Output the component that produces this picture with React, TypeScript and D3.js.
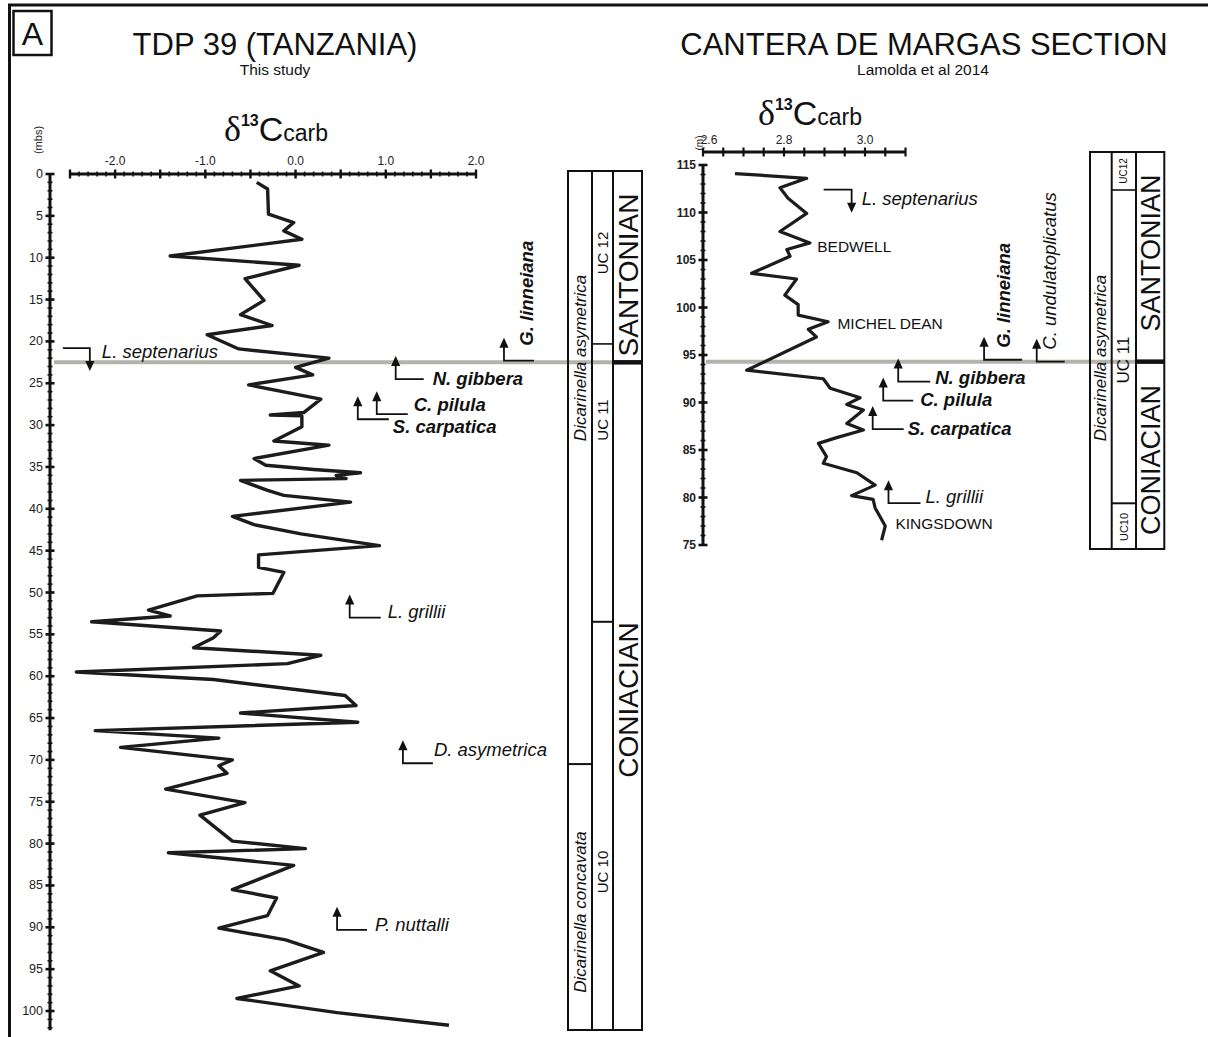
import React from "react";
import * as d3 from "d3";

const SANS = "Arial, 'Liberation Sans', Helvetica, sans-serif";
const SERIF = "'Times New Roman', 'Liberation Serif', serif";

// TDP 39 carbon-isotope profile: depth (m below surface) and δ13C carb (‰)
const tdpDepth = [1.0, 1.8, 4.8, 5.8, 6.8, 7.8, 9.8, 10.9, 12.5, 15.1, 16.8, 18.1, 19.2, 20.9, 22.0, 23.1, 24.0, 25.2, 26.9, 28.5, 28.8, 28.9, 30.2, 31.9, 32.4, 34.0, 34.8, 35.3, 35.7, 36.0, 36.4, 36.6, 37.8, 38.4, 39.2, 40.9, 41.9, 43.0, 44.4, 45.5, 47.0, 47.6, 50.1, 50.4, 52.1, 52.8, 53.5, 54.6, 55.4, 56.6, 57.5, 58.5, 59.5, 60.4, 62.3, 63.5, 64.4, 65.5, 66.5, 67.4, 68.5, 70.0, 70.7, 71.6, 73.5, 75.1, 76.6, 79.7, 80.6, 81.1, 82.6, 85.5, 86.5, 88.6, 90.1, 91.5, 93.0, 95.2, 97.0, 98.5, 100.2, 101.7];
const tdpD13C = [-0.43, -0.31, -0.30, -0.02, -0.13, 0.07, -1.39, 0.04, -0.56, -0.35, -0.61, -0.26, -0.98, -0.63, 0.37, 0.0, 0.19, -0.52, 0.28, 0.09, -0.28, 0.07, 0.07, -0.24, 0.37, -0.46, -0.33, 0.2, 0.72, 0.45, 0.56, -0.61, -0.31, -0.13, 0.61, -0.7, -0.46, 0.06, 0.93, -0.41, -0.41, -0.13, -0.25, -1.09, -1.63, -1.39, -2.26, -0.83, -0.91, -1.13, 0.28, -0.09, -2.43, -0.91, 0.55, 0.67, -0.61, 0.69, -2.22, -0.85, -1.94, -0.7, -0.85, -0.76, -1.44, -0.56, -1.06, -0.7, 0.11, -1.41, -0.02, -0.7, -0.21, -0.31, -0.85, -0.11, 0.31, -0.28, 0.04, -0.65, 0.46, 1.7];

// Cantera de Margas profile: height (m) and δ13C carb (‰)
const cmHeight = [114.1, 113.6, 112.6, 111.5, 109.9, 108.0, 106.8, 106.1, 105.4, 103.6, 103.0, 101.3, 100.3, 99.2, 98.5, 97.7, 96.9, 93.4, 92.5, 91.5, 90.5, 89.8, 89.2, 87.8, 87.1, 86.3, 85.7, 84.3, 83.6, 82.6, 81.3, 80.2, 79.8, 78.9, 77.0, 75.5];
const cmD13C = [2.679, 2.856, 2.79, 2.81, 2.856, 2.79, 2.864, 2.807, 2.815, 2.72, 2.831, 2.802, 2.835, 2.835, 2.909, 2.86, 2.88, 2.708, 2.897, 2.914, 2.988, 2.955, 2.996, 2.955, 2.996, 2.93, 2.885, 2.905, 2.897, 2.98, 3.025, 2.967, 3.02, 3.025, 3.05, 3.041];

// Axis tick labels
const tdpXTicks = [-2, -1, 0, 1, 2];
const cmXTicks = [2.6, 2.8, 3.0];

// Santonian base (gray correlation line)
const tdpSantonianBase = 22.5;
const cmSantonianBase = 94.3;

// Biostratigraphic datums: FO = first occurrence (arrow up), LO = last occurrence (arrow down)
const tdpDatums = [
  { taxon: "L. septenarius", kind: "LO", d13c: -2.28, depth: 20.8, bold: false },
  { taxon: "G. linneiana", kind: "FO", d13c: 2.31, depth: 22.3, bold: true, vertical: true },
  { taxon: "N. gibbera", kind: "FO", d13c: 1.11, depth: 24.5, bold: true },
  { taxon: "C. pilula", kind: "FO", d13c: 0.9, depth: 28.7, bold: true },
  { taxon: "S. carpatica", kind: "FO", d13c: 0.69, depth: 29.3, bold: true },
  { taxon: "L. grillii", kind: "FO", d13c: 0.6, depth: 53.0, bold: false },
  { taxon: "D. asymetrica", kind: "FO", d13c: 1.19, depth: 70.4, bold: false },
  { taxon: "P. nuttalli", kind: "FO", d13c: 0.46, depth: 90.3, bold: false },
];
const cmDatums = [
  { taxon: "L. septenarius", kind: "LO", d13c: 2.967, height: 112.4, bold: false },
  { taxon: "G. linneiana", kind: "FO", d13c: 3.294, height: 94.5, bold: true, vertical: true },
  { taxon: "C. undulatoplicatus", kind: "FO", d13c: 3.424, height: 94.3, bold: false, vertical: true },
  { taxon: "N. gibbera", kind: "FO", d13c: 3.082, height: 92.2, bold: true },
  { taxon: "C. pilula", kind: "FO", d13c: 3.045, height: 90.2, bold: true },
  { taxon: "S. carpatica", kind: "FO", d13c: 3.019, height: 87.2, bold: true },
  { taxon: "L. grillii", kind: "FO", d13c: 3.058, height: 79.4, bold: false },
];
// label layout: [connector length, label gap, label vertical shift]
const tdpLabelLayout = [
  [27, 12, 3], [30, 29, -15], [28, 9, -1], [31, 6, -10], [31, 4, 7], [31, 7, -6], [30, 1, -14], [30, 8, -5],
];
const cmLabelLayout = [
  [28, 10, 9], [38, 26, -12], [28, 19, -12], [32, 5, -4], [30, 7, -1], [31, 4, -1], [32, 5, -7],
];

// Named carbon-isotope events at Cantera de Margas
const cmEvents = ["BEDWELL", "MICHEL DEAN", "KINGSDOWN"];
const cmEventHeight = [106.4, 98.3, 77.3];
const cmEventD13C = [2.882, 2.932, 3.075];

type Datum = { taxon: string; kind: string; d13c: number; bold: boolean; vertical?: boolean };

function DatumMark({ x, y, d, lay }: { x: number; y: number; d: Datum; lay: number[] }) {
  const [hLen, gap, dy] = lay;
  const stem = 23;
  const ah = 10;
  const aw = 4.6;
  const font = {
    fontFamily: SANS,
    fontSize: 18.5,
    fontStyle: "italic" as const,
    fontWeight: d.bold ? 700 : 400,
    fill: "#111",
  };
  if (d.kind === "LO") {
    const tip = y + stem;
    return (
      <g>
        <path d={`M${x - hLen},${y}H${x}V${tip - ah + 1}`} fill="none" stroke="#111" strokeWidth={1.8} />
        <path d={`M${x - aw},${tip - ah}L${x + aw},${tip - ah}L${x},${tip}Z`} fill="#111" />
        <text x={x + gap} y={y + dy} dominantBaseline="central" style={font}>{d.taxon}</text>
      </g>
    );
  }
  const tip = y - stem;
  return (
    <g>
      <path d={`M${x + hLen},${y}H${x}V${tip + ah - 1}`} fill="none" stroke="#111" strokeWidth={1.8} />
      <path d={`M${x - aw},${tip + ah}L${x + aw},${tip + ah}L${x},${tip}Z`} fill="#111" />
      {d.vertical ? (
        <text transform={`translate(${x + gap},${y + dy}) rotate(-90)`} style={font}>{d.taxon}</text>
      ) : (
        <text x={x + hLen + gap} y={y + dy} dominantBaseline="central" style={font}>{d.taxon}</text>
      )}
    </g>
  );
}

function DeltaLabel({ x, y }: { x: number; y: number }) {
  return (
    <text x={x} y={y} textAnchor="middle" fill="#111" fontFamily={SANS}>
      <tspan fontFamily={SERIF} fontSize={36}>δ</tspan>
      <tspan fontSize={16} fontWeight={700} dy={-15}>13</tspan>
      <tspan fontSize={34} dy={15}>C</tspan>
      <tspan fontSize={23}>carb</tspan>
    </text>
  );
}

function VText({ x, y, size, children, italic, weight }: any) {
  return (
    <text
      transform={`translate(${x},${y}) rotate(-90)`}
      textAnchor="middle"
      dominantBaseline="central"
      fontFamily={SANS}
      fontSize={size}
      fontStyle={italic ? "italic" : "normal"}
      fontWeight={weight || 400}
      fill="#111"
    >
      {children}
    </text>
  );
}

const tickFmt = (v: number) => d3.format(".1f")(v).replace("\u2212", "-");

export default function App() {
  const W = 1208;
  const H = 1037;

  const xL = d3.scaleLinear().domain([-2.5, 2.0]).range([70, 476]);
  const yL = d3.scaleLinear().domain([0, 100]).range([174, 1011]);
  const xR = d3.scaleLinear().domain([2.6, 3.1]).range([703, 905.5]);
  const yR = d3.scaleLinear().domain([75, 115]).range([545, 165]);

  const tdpLine = d3
    .line<number>()
    .x((d) => xL(d))
    .y((_, i) => yL(tdpDepth[i]))(tdpD13C);
  const cmLine = d3
    .line<number>()
    .x((d) => xR(d))
    .y((_, i) => yR(cmHeight[i]))(cmD13C);

  const axL = 50;
  const axLy = yL(0);
  const axRy = 152;
  const axR = xR(2.6);

  // Stratigraphic columns
  const lc = [568, 592, 613, 642];
  const lTop = 171;
  const lBot = 1030;
  const rc = [1090, 1111.7, 1136, 1164.3];
  const rTop = 152;
  const rBot = 549;

  const gray = "#b3b3ab";

  return (
    <svg
      width={W}
      height={H}
      viewBox={`0 0 ${W} ${H}`}
      style={{ position: "absolute", left: 0, top: 0, background: "#fff" }}
    >
      <rect x={0} y={0} width={W} height={H} fill="#fff" />

      {/* figure frame */}
      <line x1={8} x2={W} y1={5} y2={5} stroke="#111" strokeWidth={3} />
      <line x1={9.5} x2={9.5} y1={5} y2={H} stroke="#111" strokeWidth={3} />
      <rect x={13.5} y={11} width={38} height={44} fill="none" stroke="#111" strokeWidth={2.5} />
      <text x={32.5} y={45} textAnchor="middle" fontFamily={SANS} fontSize={32} fill="#111">A</text>

      {/* titles */}
      <text x={275} y={55} textAnchor="middle" fontFamily={SANS} fontSize={31} fill="#111">TDP 39 (TANZANIA)</text>
      <text x={275} y={75} textAnchor="middle" fontFamily={SANS} fontSize={15.5} fill="#111">This study</text>
      <text x={924} y={55} textAnchor="middle" fontFamily={SANS} fontSize={31} fill="#111">CANTERA DE MARGAS SECTION</text>
      <text x={923} y={75} textAnchor="middle" fontFamily={SANS} fontSize={15.5} fill="#111">Lamolda et al 2014</text>

      <DeltaLabel x={276} y={141} />
      <DeltaLabel x={810} y={125} />

      {/* gray Santonian-base correlation lines */}
      <line x1={axL + 4} x2={lc[2]} y1={yL(tdpSantonianBase)} y2={yL(tdpSantonianBase)} stroke={gray} strokeWidth={4} />
      <line x1={axR + 3} x2={rc[2]} y1={yR(cmSantonianBase)} y2={yR(cmSantonianBase)} stroke={gray} strokeWidth={4} />

      {/* ---- TDP 39 axes ---- */}
      <text transform={`translate(38,140) rotate(-90)`} textAnchor="middle" dominantBaseline="central" fontFamily={SANS} fontSize={11} fill="#222">(mbs)</text>
      <line x1={axL} x2={axL} y1={axLy - 1} y2={yL(102.3)} stroke="#111" strokeWidth={3} />
      {d3.range(0, 103).map((d) => (
        <line key={"lym" + d} x1={axL - 2.5} x2={axL + 2.5} y1={yL(d)} y2={yL(d)} stroke="#111" strokeWidth={1.6} />
      ))}
      {d3.range(0, 101, 5).map((d) => (
        <g key={"lyM" + d}>
          <line x1={axL - 4.5} x2={axL + 4.5} y1={yL(d)} y2={yL(d)} stroke="#111" strokeWidth={2.6} />
          <text x={axL - 7} y={yL(d)} textAnchor="end" dominantBaseline="central" fontFamily={SANS} fontSize={12.5} fill="#222">{d}</text>
        </g>
      ))}

      <line x1={xL(-2.5)} x2={xL(2.0)} y1={axLy} y2={axLy} stroke="#111" strokeWidth={3} />
      {d3.range(-25, 21).map((k) => (
        <line key={"lxm" + k} x1={xL(k / 10)} x2={xL(k / 10)} y1={axLy - 2.5} y2={axLy + 2.5} stroke="#111" strokeWidth={1.6} />
      ))}
      {d3.range(-5, 5).map((k) => (
        <line key={"lxM" + k} x1={xL(k / 2)} x2={xL(k / 2)} y1={axLy - 4.5} y2={axLy + 4.5} stroke="#111" strokeWidth={2.4} />
      ))}
      {tdpXTicks.map((t) => (
        <text key={"lxl" + t} x={xL(t)} y={axLy - 13} textAnchor="middle" dominantBaseline="central" fontFamily={SANS} fontSize={12} fill="#222">{tickFmt(t)}</text>
      ))}

      <path d={tdpLine || ""} fill="none" stroke="#1c1c1c" strokeWidth={3.4} strokeLinejoin="round" />

      {tdpDatums.map((d, i) => (
        <DatumMark key={"td" + i} x={xL(d.d13c)} y={yL(d.depth)} d={d} lay={tdpLabelLayout[i]} />
      ))}

      {/* TDP 39 stratigraphic columns */}
      <g fill="none" stroke="#111">
        <rect x={lc[0]} y={lTop} width={lc[3] - lc[0]} height={lBot - lTop} strokeWidth={2} />
        <line x1={lc[1]} x2={lc[1]} y1={lTop} y2={lBot} strokeWidth={2} />
        <line x1={lc[2]} x2={lc[2]} y1={lTop} y2={lBot} strokeWidth={2} />
        <line x1={lc[0]} x2={lc[1]} y1={yL(70.5)} y2={yL(70.5)} strokeWidth={2} />
        <line x1={lc[1]} x2={lc[2]} y1={yL(20.3)} y2={yL(20.3)} strokeWidth={1.6} />
        <line x1={lc[1]} x2={lc[2]} y1={yL(53.5)} y2={yL(53.5)} strokeWidth={2} />
        <line x1={lc[2]} x2={lc[3]} y1={yL(tdpSantonianBase)} y2={yL(tdpSantonianBase)} strokeWidth={4.5} />
      </g>
      <VText x={(lc[0] + lc[1]) / 2} y={358} size={17} italic>Dicarinella asymetrica</VText>
      <VText x={(lc[0] + lc[1]) / 2} y={912} size={17} italic>Dicarinella concavata</VText>
      <VText x={(lc[1] + lc[2]) / 2} y={253} size={15}>UC 12</VText>
      <VText x={(lc[1] + lc[2]) / 2} y={420} size={15}>UC 11</VText>
      <VText x={(lc[1] + lc[2]) / 2} y={872} size={15}>UC 10</VText>
      <VText x={(lc[2] + lc[3]) / 2 + 1} y={275} size={28}>SANTONIAN</VText>
      <VText x={(lc[2] + lc[3]) / 2 + 1} y={700} size={28}>CONIACIAN</VText>

      {/* ---- Cantera de Margas axes ---- */}
      <text transform={`translate(699,143) rotate(-90)`} textAnchor="middle" dominantBaseline="central" fontFamily={SANS} fontSize={10} fill="#222">(m)</text>
      <line x1={axR} x2={xR(3.1)} y1={axRy} y2={axRy} stroke="#111" strokeWidth={3} />
      {d3.range(0, 11).map((k) => (
        <line key={"rxm" + k} x1={xR(2.6 + k * 0.05)} x2={xR(2.6 + k * 0.05)} y1={axRy - 4.5} y2={axRy + 4.5} stroke="#111" strokeWidth={2.2} />
      ))}
      {cmXTicks.map((t) => (
        <text key={"rxl" + t} x={xR(t) + (t === 2.6 ? 6 : 0)} y={axRy - 12} textAnchor="middle" dominantBaseline="central" fontFamily={SANS} fontSize={12} fill="#222">{tickFmt(t)}</text>
      ))}

      <line x1={axR} x2={axR} y1={yR(115) - 1} y2={yR(75) + 1} stroke="#111" strokeWidth={3} />
      {d3.range(75, 116).map((d) => (
        <line key={"rym" + d} x1={axR - 2.5} x2={axR + 2.5} y1={yR(d)} y2={yR(d)} stroke="#111" strokeWidth={1.6} />
      ))}
      {d3.range(75, 116, 5).map((d) => (
        <g key={"ryM" + d}>
          <line x1={axR - 4.5} x2={axR + 4.5} y1={yR(d)} y2={yR(d)} stroke="#111" strokeWidth={2.6} />
          <text x={axR - 7} y={yR(d)} textAnchor="end" dominantBaseline="central" fontFamily={SANS} fontSize={12} fontWeight={700} fill="#222">{d}</text>
        </g>
      ))}

      <path d={cmLine || ""} fill="none" stroke="#1c1c1c" strokeWidth={3.2} strokeLinejoin="round" />

      {cmEvents.map((e, i) => (
        <text key={"ev" + i} x={xR(cmEventD13C[i])} y={yR(cmEventHeight[i])} dominantBaseline="central" fontFamily={SANS} fontSize={15.5} fill="#111">{e}</text>
      ))}

      {cmDatums.map((d, i) => (
        <DatumMark key={"cd" + i} x={xR(d.d13c)} y={yR(d.height)} d={d} lay={cmLabelLayout[i]} />
      ))}

      {/* Cantera de Margas stratigraphic columns */}
      <g fill="none" stroke="#111">
        <rect x={rc[0]} y={rTop} width={rc[3] - rc[0]} height={rBot - rTop} strokeWidth={2} />
        <line x1={rc[1]} x2={rc[1]} y1={rTop} y2={rBot} strokeWidth={2} />
        <line x1={rc[2]} x2={rc[2]} y1={rTop} y2={rBot} strokeWidth={2} />
        <line x1={rc[1]} x2={rc[2]} y1={190} y2={190} strokeWidth={1.6} />
        <line x1={rc[1]} x2={rc[2]} y1={503.3} y2={503.3} strokeWidth={2} />
        <line x1={rc[2]} x2={rc[3]} y1={yR(cmSantonianBase)} y2={yR(cmSantonianBase)} strokeWidth={4.5} />
      </g>
      <VText x={(rc[0] + rc[1]) / 2} y={358} size={17} italic>Dicarinella asymetrica</VText>
      <VText x={(rc[1] + rc[2]) / 2} y={171} size={10}>UC12</VText>
      <VText x={(rc[1] + rc[2]) / 2} y={360} size={17}>UC 11</VText>
      <VText x={(rc[1] + rc[2]) / 2} y={527} size={11}>UC10</VText>
      <VText x={(rc[2] + rc[3]) / 2 + 1} y={253} size={27}>SANTONIAN</VText>
      <VText x={(rc[2] + rc[3]) / 2 + 1} y={460} size={27}>CONIACIAN</VText>
    </svg>
  );
}
